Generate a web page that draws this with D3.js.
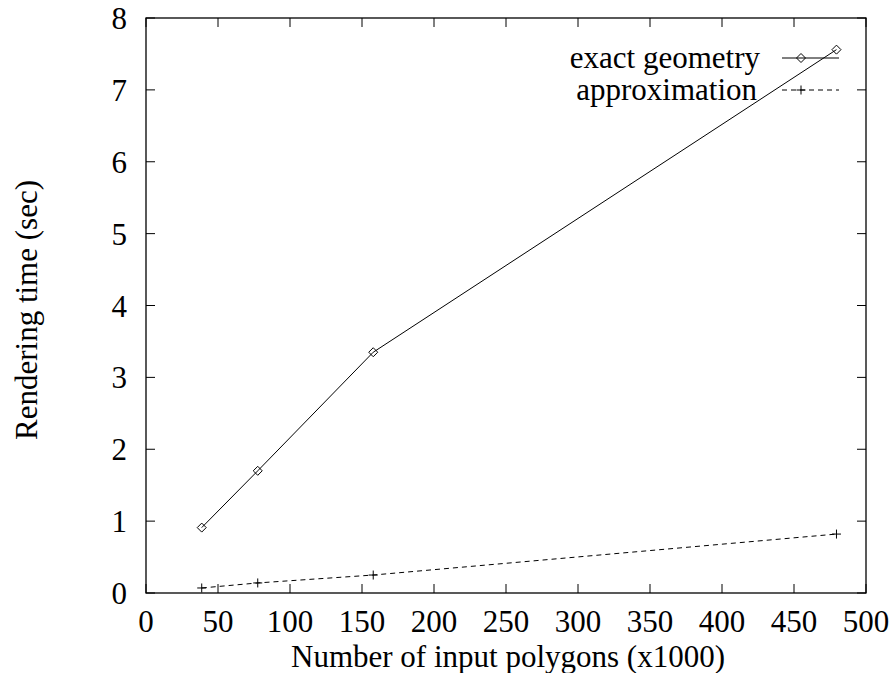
<!DOCTYPE html>
<html lang="en">
<head>
    <meta charset="UTF-8">
    <title>Rendering time</title>
    <style>
        body{ margin: 0; background: #fff; }
        svg{ display: block; }
        text{ font-family: "Liberation Serif", "DejaVu Serif", serif; fill: #000; }
    </style>
    <script src="https://cdn.jsdelivr.net/npm/d3@7"></script>
</head>
<body>
<script>
    const width = 893
    const height = 673

    // data
    const polygons = [38.7, 77.6, 157.8, 479.5]
    const exactTime = [0.91, 1.70, 3.35, 7.56]
    const approxTime = [0.07, 0.14, 0.25, 0.82]
    const xTicks = [0, 50, 100, 150, 200, 250, 300, 350, 400, 450, 500]
    const yTicks = [0, 1, 2, 3, 4, 5, 6, 7, 8]
    const seriesNames = ["exact geometry", "approximation"]

    const margin = {left: 146, right: 893 - 866, top: 18, bottom: 673 - 593}

    let svg = d3.select("body").append("svg")
        .attr("width", width).attr("height", height)

    const x = d3.scaleLinear().domain([0, 500]).range([margin.left, width - margin.right])
    const y = d3.scaleLinear().domain([0, 8]).range([height - margin.bottom, margin.top])

    const tickLen = 9
    const fontSize = 31

    //frame
    svg.append("rect")
        .attr("x", x(0)).attr("y", y(8))
        .attr("width", x(500) - x(0)).attr("height", y(0) - y(8))
        .attr("fill", "none").attr("stroke", "black").attr("stroke-width", 1.3)

    //inward ticks, mirrored on top and right
    let g = svg.append("g").attr("stroke", "black").attr("stroke-width", 1)
    xTicks.forEach(t => {
        g.append("line").attr("x1", x(t)).attr("x2", x(t)).attr("y1", y(0)).attr("y2", y(0) - tickLen)
        g.append("line").attr("x1", x(t)).attr("x2", x(t)).attr("y1", y(8)).attr("y2", y(8) + tickLen)
    })
    yTicks.forEach(t => {
        g.append("line").attr("x1", x(0)).attr("x2", x(0) + tickLen).attr("y1", y(t)).attr("y2", y(t))
        g.append("line").attr("x1", x(500)).attr("x2", x(500) - tickLen).attr("y1", y(t)).attr("y2", y(t))
    })

    //tick labels
    svg.selectAll(".xlab").data(xTicks).enter().append("text")
        .attr("x", d => x(d)).attr("y", y(0) + 39)
        .attr("text-anchor", "middle").attr("font-size", fontSize)
        .text(d => d)
    svg.selectAll(".ylab").data(yTicks).enter().append("text")
        .attr("x", x(0) - 19).attr("y", d => y(d) + 11)
        .attr("text-anchor", "end").attr("font-size", fontSize)
        .text(d => d)

    //axis titles
    svg.append("text")
        .attr("x", (x(0) + x(500)) / 2 + 2).attr("y", 666.5)
        .attr("text-anchor", "middle").attr("font-size", fontSize)
        .text("Number of input polygons (x1000)")
    svg.append("text")
        .attr("transform", `translate(37,310) rotate(-90)`)
        .attr("text-anchor", "middle").attr("font-size", fontSize)
        .text("Rendering time (sec)")

    const line = d3.line().x(d => x(d[0])).y(d => y(d[1]))
    const exactPts = polygons.map((p, i) => [p, exactTime[i]])
    const approxPts = polygons.map((p, i) => [p, approxTime[i]])

    function diamond(sel, cx, cy) {
        const r = 4.5
        sel.append("path")
            .attr("d", `M${cx},${cy - r}L${cx + r},${cy}L${cx},${cy + r}L${cx - r},${cy}Z`)
            .attr("fill", "none").attr("stroke", "black").attr("stroke-width", 1)
    }
    function plus(sel, cx, cy) {
        const r = 4.5
        sel.append("path")
            .attr("d", `M${cx - r},${cy}H${cx + r}M${cx},${cy - r}V${cy + r}`)
            .attr("stroke", "black").attr("stroke-width", 1)
    }

    let gPlot = svg.append("g")
    gPlot.append("path").datum(exactPts).attr("d", line)
        .attr("fill", "none").attr("stroke", "black").attr("stroke-width", 1)
    exactPts.forEach(d => diamond(gPlot, x(d[0]), y(d[1])))

    gPlot.append("path").datum(approxPts).attr("d", line)
        .attr("fill", "none").attr("stroke", "black").attr("stroke-width", 1)
        .attr("stroke-dasharray", "5,4")
    approxPts.forEach(d => plus(gPlot, x(d[0]), y(d[1])))

    //legend
    const legY = [58, 90]
    let gLeg = svg.append("g")
    seriesNames.forEach((name, i) => {
        gLeg.append("text")
            .attr("x", i === 0 ? 760 : 757).attr("y", legY[i] + 10)
            .attr("text-anchor", "end").attr("font-size", fontSize)
            .text(name)
        gLeg.append("line")
            .attr("x1", 782).attr("x2", 839).attr("y1", legY[i]).attr("y2", legY[i])
            .attr("stroke", "black").attr("stroke-width", 1)
            .attr("stroke-dasharray", i === 0 ? null : "5,4")
        if (i === 0) diamond(gLeg, 801, legY[i])
        else plus(gLeg, 801, legY[i])
    })
</script>
</body>
</html>
